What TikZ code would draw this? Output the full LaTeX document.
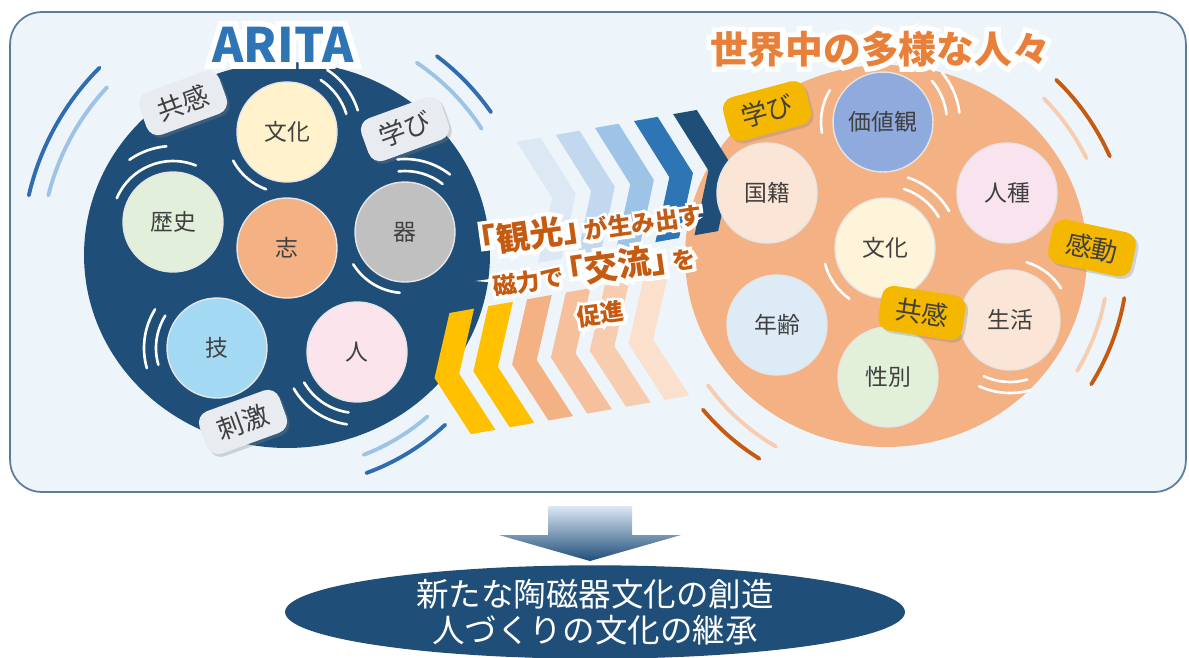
\documentclass[tikz,border=0pt]{standalone}
\usepackage{fontspec}
\setmainfont{Noto Sans CJK JP}
\usetikzlibrary{shapes.geometric, shadows}

\definecolor{navy}{HTML}{1F4E79}
\definecolor{midblue}{HTML}{2E75B6}
\definecolor{rimblue}{HTML}{2F6DB0}
\definecolor{skyblue}{HTML}{9DC3E6}
\definecolor{paleblue}{HTML}{C2D8EE}
\definecolor{iceblue}{HTML}{DCE8F4}
\definecolor{panelbg}{HTML}{EDF5FB}
\definecolor{panelline}{HTML}{5B7C9D}
\definecolor{peach}{HTML}{F4B183}
\definecolor{peachB}{HTML}{F6C09C}
\definecolor{peachC}{HTML}{F8CCAE}
\definecolor{peachD}{HTML}{FBE0CD}
\definecolor{rust}{HTML}{C55A11}
\definecolor{tangerine}{HTML}{E8803A}
\definecolor{amber}{HTML}{FFC000}
\definecolor{tagamber}{HTML}{F5B800}
\definecolor{taggray}{HTML}{E8ECF0}
\definecolor{ink}{HTML}{404040}

\newcommand\glow[1]{\leavevmode\rlap{\color{white}\addfontfeatures{FakeBold=26}#1}#1}
\newcommand\bigword[1]{{\fontsize{19pt}{24pt}\selectfont #1}}

\begin{document}
\begin{tikzpicture}[x=0.02cm, y=0.02cm,
        bub/.style={circle, minimum size=2cm, inner sep=0pt, draw=white!80!gray, line width=0.8pt, text=ink, font=\fontsize{13pt}{15pt}\selectfont},
        tag/.style={rounded corners=7pt, minimum width=1.7cm, minimum height=0.9cm, inner sep=0pt, text=ink, font=\fontsize{15pt}{17pt}\selectfont, drop shadow={opacity=0.3, shadow xshift=1.5pt, shadow yshift=-1.5pt}},
        wave/.style={white, line width=1.5pt, line cap=round},
        rim/.style={line width=2.2pt, line cap=round},
        title/.style={font=\fontsize{#1}{#1}\selectfont\bfseries, inner sep=0pt}
        ]
        \useasboundingbox (0,0) rectangle (1189,-657);
        \fill[white] (0,0) rectangle (1189,-657);
        \node[draw=panelline, line width=1pt, fill=panelbg, rounded corners=18pt, minimum width=23.52cm, minimum height=9.6cm, inner sep=0pt] (panel) at (598,-252) {};

        \node[ellipse, fill=navy, minimum width=8.12cm, minimum height=7.72cm, inner sep=0pt] (arita) at (287,-255) {};
        \node[ellipse, fill=peach, minimum width=8.04cm, minimum height=7.64cm, inner sep=0pt] (world) at (886,-256) {};

        % rims round the two circles
        \draw[rim, rimblue] (arita.center) ++(135:265) arc[start angle=135, end angle=167, radius=265];
        \draw[rim, skyblue] (arita.center) ++(137:246) arc[start angle=137, end angle=166, radius=246];
        \draw[rim, rimblue] (arita.center) ++(35:249) arc[start angle=35, end angle=53, radius=249];
        \draw[rim, skyblue] (arita.center) ++(33:232) arc[start angle=33, end angle=56, radius=232];
        \draw[rim, rimblue] (arita.center) ++(-70:232) arc[start angle=-70, end angle=-47, radius=232];
        \draw[rim, skyblue] (arita.center) ++(-69:214) arc[start angle=-69, end angle=-49, radius=214];
        \draw[rim, rust] (world.center) ++(24:245) arc[start angle=24, end angle=46, radius=245];
        \draw[rim, peachC] (world.center) ++(26:223) arc[start angle=26, end angle=45, radius=223];
        \draw[rim, rust] (world.center) ++(-32:242) arc[start angle=-32, end angle=-10, radius=242];
        \draw[rim, peachC] (world.center) ++(-31:223) arc[start angle=-31, end angle=-11, radius=223];
        \draw[rim, rust] (world.center) ++(220:239) arc[start angle=220, end angle=238, radius=239];
        \draw[rim, peachC] (world.center) ++(216:220) arc[start angle=216, end angle=240, radius=220];

        \begin{scope}[shift={(590,-275)}, rotate=10]
            \foreach \c [count=\i from 0] in {iceblue, paleblue, skyblue, midblue, navy}
                \fill[\c] ({-49+39.7*\i},144) -- ++(24,0) -- ++(25,-61.5) -- ++(-25,-61.5) -- ++(-24,0) -- ++(25,61.5) -- cycle;
            \foreach \c [count=\j from 0] in {amber, amber, peach, peachB, peachC, peachD}
                \fill[\c] ({-145+39.4*\j},-13) -- ++(25,0) -- ++(-26,-61.5) -- ++(26,-61.5) -- ++(-25,0) -- ++(-26,61.5) -- cycle;
        \end{scope}

        \node[bub, fill={rgb,255:red,255;green,242;blue,204}] (lbunka) at (287,-132) {文化};
        \node[bub, fill={rgb,255:red,226;green,239;blue,218}] (rekishi) at (173,-222) {歴史};
        \node[bub, fill=peach] (kokoro) at (287,-248) {志};
        \node[bub, fill={rgb,255:red,192;green,192;blue,192}] (utsuwa) at (405,-232) {器};
        \node[bub, fill={rgb,255:red,164;green,217;blue,243}] (waza) at (217,-348) {技};
        \node[bub, fill={rgb,255:red,252;green,228;blue,236}] (hito) at (357,-352) {人};

        \node[bub, fill={rgb,255:red,143;green,170;blue,220}] (kachi) at (883,-122) {価値観};
        \node[bub, fill={rgb,255:red,251;green,229;blue,214}] (kokuseki) at (767,-193) {国籍};
        \node[bub, fill={rgb,255:red,249;green,227;blue,239}] (jinshu) at (1007,-193) {人種};
        \node[bub, fill={rgb,255:red,254;green,244;blue,217}] (rbunka) at (885,-248) {文化};
        \node[bub, fill={rgb,255:red,221;green,235;blue,247}] (nenrei) at (777,-325) {年齢};
        \node[bub, fill={rgb,255:red,251;green,229;blue,214}] (seikatsu) at (1010,-320) {生活};
        \node[bub, fill={rgb,255:red,226;green,240;blue,217}] (seibetsu) at (888,-377) {性別};

        % white ripples
        \foreach \r in {62,74} \draw[wave] (lbunka.center) ++(17:\r) arc[start angle=17, end angle=57, radius=\r];
        \draw[wave] (lbunka.center) ++(208:61) arc[start angle=208, end angle=250, radius=61];
        \draw[wave] (rekishi.center) ++(68:61) arc[start angle=68, end angle=157, radius=61];
        \draw[wave] (rekishi.center) ++(95:76) arc[start angle=95, end angle=125, radius=76];
        \foreach \r in {61,73} \draw[wave] (utsuwa.center) ++(52:\r) arc[start angle=52, end angle=96, radius=\r];
        \draw[wave] (utsuwa.center) ++(212:61) arc[start angle=212, end angle=265, radius=61];
        \foreach \r in {61,73} \draw[wave] (waza.center) ++(148:\r) arc[start angle=148, end angle=196, radius=\r];
        \foreach \r in {61,73} \draw[wave] (hito.center) ++(210:\r) arc[start angle=210, end angle=262, radius=\r];
        \draw[wave] (kachi.center) ++(149:62) arc[start angle=149, end angle=190, radius=62];
        \foreach \r in {64,77} \draw[wave] (kachi.center) ++(7:\r) arc[start angle=7, end angle=40, radius=\r];
        \foreach \r in {62,74} \draw[wave] (rbunka.center) ++(30:\r) arc[start angle=30, end angle=72, radius=\r];
        \draw[wave] (rbunka.center) ++(195:62) arc[start angle=195, end angle=235, radius=62];
        \draw[wave] (seikatsu.center) ++(32:60) arc[start angle=32, end angle=74, radius=60];
        \foreach \r in {62,73} \draw[wave] (seikatsu.center) ++(245:\r) arc[start angle=245, end angle=286, radius=\r];

        \node[tag, fill=taggray, rotate=20] (lkyokan) at (183,-103) {共感};
        \node[tag, fill=taggray, rotate=20] (lmanabi) at (405,-129) {学び};
        \node[tag, fill=taggray, rotate=20] (shigeki) at (243,-422) {刺激};
        \node[tag, fill=tagamber, rotate=15] (rmanabi) at (767,-111) {学び};
        \node[tag, fill=tagamber, rotate=-12] (kando) at (1092,-248) {感動};
        \node[tag, fill=tagamber, rotate=-9] (rkyokan) at (922,-313) {共感};

        \node[title=27pt, text=midblue] (aritatitle) at (283,-45) {\glow{ARITA}};
        \node[title=21.5pt, text=tangerine] (worldtitle) at (880,-49) {\glow{世界中の多様な人々}};

        \node[text=rust, align=center, rotate=8, inner sep=0pt, font=\fontsize{13.5pt}{24pt}\selectfont\bfseries] (magnet) at (594,-268)
            {\glow{\bigword{\kern-0.35em「観光」\kern-0.35em}が生み出す}\\\glow{磁力で\bigword{\kern-0.35em「交流」\kern-0.35em}を}\\\glow{促進}};

        \shade[top color=iceblue, bottom color=navy] (548,-506) -- (632,-506) -- (632,-535) -- (681,-535) -- (590,-561) -- (499,-535) -- (548,-535) -- cycle;
        \node[ellipse, fill=navy, minimum width=12.4cm, minimum height=1.84cm, inner sep=0pt, text=white, align=center, font=\fontsize{18.5pt}{20.5pt}\selectfont] (goal) at (595,-612)
            {新たな陶磁器文化の創造\\人づくりの文化の継承};
    \end{tikzpicture}
\end{document}
